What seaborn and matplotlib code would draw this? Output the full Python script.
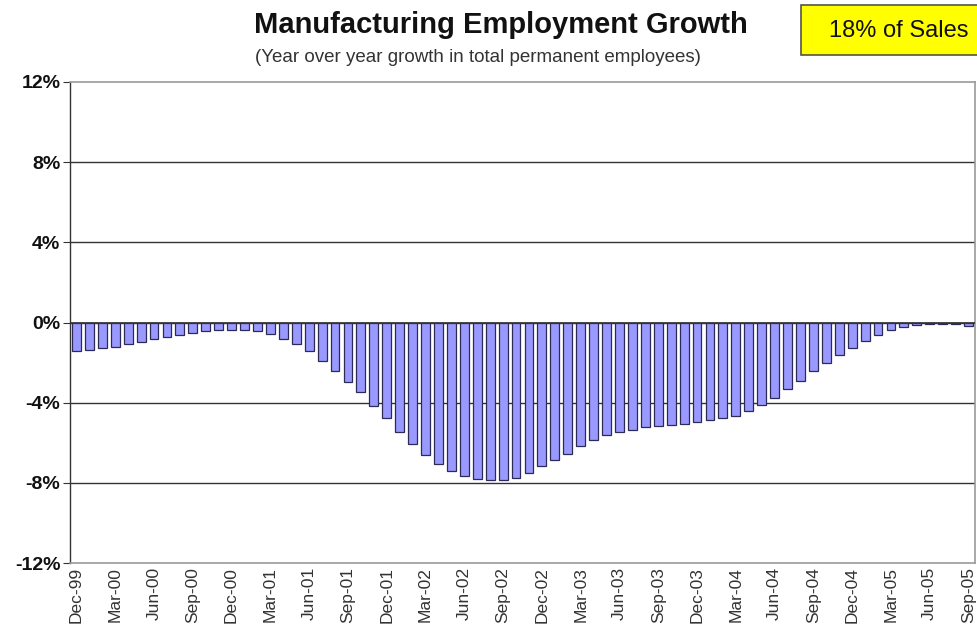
import numpy as np
import pandas as pd
import matplotlib
matplotlib.use("Agg")
import matplotlib.pyplot as plt
from matplotlib.patches import Rectangle
import seaborn as sns

# Monthly year-over-year growth (%) in manufacturing permanent employees
months = pd.date_range("1999-12-01", "2005-09-01", freq="MS").strftime("%b-%y").tolist()
growth = [
    -1.40, -1.35, -1.27, -1.22, -1.09, -0.97, -0.80, -0.72, -0.60, -0.50,
    -0.43, -0.38, -0.38, -0.38, -0.43, -0.57, -0.80, -1.09, -1.43, -1.92,
    -2.40, -2.95, -3.48, -4.15, -4.78, -5.45, -6.07, -6.62, -7.08, -7.43,
    -7.68, -7.83, -7.87, -7.85, -7.75, -7.52, -7.18, -6.88, -6.55, -6.17,
    -5.88, -5.63, -5.47, -5.34, -5.22, -5.18, -5.12, -5.05, -4.95, -4.87,
    -4.77, -4.65, -4.40, -4.10, -3.77, -3.32, -2.90, -2.43, -2.03, -1.62,
    -1.28, -0.90, -0.60, -0.38, -0.22, -0.13, -0.08, -0.08, -0.08, -0.15,
]
y_ticks = [12, 8, 4, 0, -4, -8, -12]

title = "Manufacturing Employment Growth"
subtitle = "(Year over year growth in total permanent employees)"
badge = "18% of Sales"

df = pd.DataFrame({"month": months, "growth": growth})

sns.set_theme(style="white")
plt.rcParams["font.family"] = ["Liberation Sans", "DejaVu Sans"]

W, H = 977, 628
fig = plt.figure(figsize=(W / 100, H / 100), dpi=100)
ax = fig.add_axes([70 / W, 1 - 563 / H, 905 / W, 481 / H])

sns.barplot(data=df, x="month", y="growth", ax=ax, color="#9999ff",
            saturation=1, width=0.68, edgecolor="#2b2b55", linewidth=0.9)

ax.set_ylim(-12, 12)
ax.set_xlim(-0.5, len(months) - 0.5)
ax.set_yticks(y_ticks)
ax.set_yticklabels([f"{v}%" for v in y_ticks], fontsize=14, fontweight="bold",
                   color="#111111")
for v in [8, 4, 0, -4, -8]:
    ax.axhline(v, color="#333333", lw=1.0, zorder=0.5)
ax.axhline(0, color="#333333", lw=1.2, zorder=3)

tick_pos = list(range(0, len(months), 3))
ax.set_xticks(tick_pos)
ax.set_xticklabels([months[i] for i in tick_pos], rotation=90, fontsize=12.5,
                   color="#333333")
ax.set_xlabel("")
ax.set_ylabel("")
ax.tick_params(axis="y", length=5, width=0.8, color="#333333", pad=2, left=True)
ax.tick_params(axis="x", length=0, pad=3)

for side in ["top", "right", "bottom"]:
    ax.spines[side].set_color("#999999")
    ax.spines[side].set_linewidth(1.2)
ax.spines["left"].set_color("#333333")
ax.spines["left"].set_linewidth(1.0)

fig.text(501 / W, 1 - 25 / H, title, ha="center", va="center",
         fontsize=21, fontweight="bold", color="#111111")
fig.text(478 / W, 1 - 58 / H, subtitle, ha="center", va="center",
         fontsize=13.5, color="#333333")

# yellow badge running off the right edge
fig.patches.append(Rectangle((801 / W, 1 - 55 / H), 200 / W, 50 / H,
                             transform=fig.transFigure, facecolor="#ffff00",
                             edgecolor="#555544", linewidth=1.2))
fig.text(899 / W, 1 - 31 / H, badge, ha="center", va="center",
         fontsize=17, color="#111111")

fig.savefig("out.png", dpi=100)
